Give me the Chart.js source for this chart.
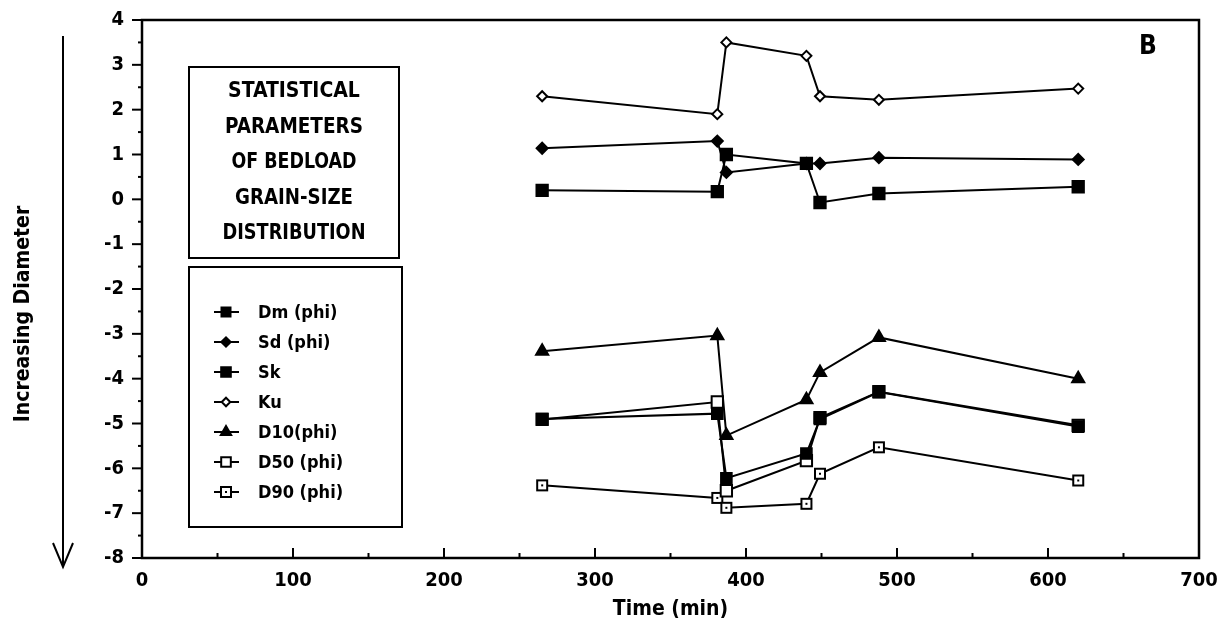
<!DOCTYPE html>
<html>
<head>
<meta charset="utf-8">
<script src="https://cdn.jsdelivr.net/npm/chart.js@4.4.0/dist/chart.umd.min.js"></script>
<style>
  body { margin: 0; background: #fff; }
  canvas { display: block; }
</style>
</head>
<body>
<canvas id="grafico" width="1225" height="632"></canvas>
<script>
// tiempos de muestreo (min)
const tiempos = [265, 381, 387, 440, 449, 488, 620];

// valores
const dm  = [-4.9, -4.78, -6.22, -5.67, -4.9, -4.3, -5.07];
const sd  = [1.14, 1.3, 0.6, 0.8, 0.8, 0.93, 0.89];
const sk  = [0.2, 0.17, 1.0, 0.8, -0.07, 0.13, 0.28];
const ku  = [2.3, 1.9, 3.5, 3.2, 2.3, 2.22, 2.47];
const d10 = [-3.39, -3.04, -5.27, -4.47, -3.86, -3.08, -4.0];
const d50 = [-4.91, -4.52, -6.5, -5.83, -4.87, -4.29, -5.04];
const d90 = [-6.38, -6.66, -6.88, -6.79, -6.12, -5.53, -6.27];

const nombres = ['Dm (phi)', 'Sd (phi)', 'Sk', 'Ku', 'D10(phi)', 'D50 (phi)', 'D90 (phi)'];
const lineasTitulo = ['STATISTICAL', 'PARAMETERS', 'OF BEDLOAD', 'GRAIN-SIZE', 'DISTRIBUTION'];
const anchosTitulo = [137, 138, 125, 118, 143];

const fuente = '"DejaVu Sans Condensed", "DejaVu Sans", sans-serif';

// cuadro abierto con punto central (D90)
function cuadroConPunto() {
  const c = document.createElement('canvas');
  c.width = 14; c.height = 14;
  const g = c.getContext('2d');
  g.fillStyle = '#fff';
  g.fillRect(2, 2, 10, 10);
  g.strokeStyle = '#000';
  g.lineWidth = 2;
  g.strokeRect(2, 2, 10, 10);
  g.fillStyle = '#000';
  g.fillRect(6, 6, 2, 2);
  return c;
}

function serie(label, data, estilo, radio, relleno) {
  return {
    label: label,
    data: data.map((v, i) => ({ x: tiempos[i], y: v })),
    borderColor: '#000',
    borderWidth: 2,
    pointStyle: estilo,
    pointRadius: radio,
    pointBorderWidth: 2,
    pointBorderColor: '#000',
    pointBackgroundColor: relleno,
    tension: 0,
    fill: false
  };
}

const datasets = [
  serie(nombres[0], dm, 'rect', 7.5, '#000'),
  serie(nombres[1], sd, 'rectRot', 5.5, '#000'),
  serie(nombres[2], sk, 'rect', 8, '#000'),
  serie(nombres[3], ku, 'rectRot', 5, '#fff'),
  serie(nombres[4], d10, 'triangle', 7, '#000'),
  serie(nombres[5], d50, 'rect', 8, '#fff'),
  serie(nombres[6], d90, cuadroConPunto(), 6, '#fff')
];

const decoracion = {
  id: 'decoracion',
  afterDraw(chart) {
    const ctx = chart.ctx;
    const a = chart.chartArea;
    const x = chart.scales.x;
    const y = chart.scales.y;
    ctx.save();
    ctx.strokeStyle = '#000';
    ctx.fillStyle = '#000';

    // marco
    ctx.lineWidth = 2.5;
    ctx.strokeRect(a.left, a.top, a.right - a.left, a.bottom - a.top);

    // marcas eje x (hacia dentro)
    ctx.lineWidth = 2;
    for (let t = 0; t <= 700; t += 50) {
      const px = x.getPixelForValue(t);
      const largo = t % 100 === 0 ? 10 : 5;
      ctx.beginPath();
      ctx.moveTo(px, a.bottom);
      ctx.lineTo(px, a.bottom - largo);
      ctx.stroke();
    }
    // marcas eje y (hacia fuera)
    for (let v = -8; v <= 4; v += 0.5) {
      const py = y.getPixelForValue(v);
      const largo = Number.isInteger(v) ? 10 : 4;
      ctx.beginPath();
      ctx.moveTo(a.left, py);
      ctx.lineTo(a.left - largo, py);
      ctx.stroke();
    }

    // titulo eje y y flecha
    ctx.save();
    ctx.translate(24, 314);
    ctx.rotate(-Math.PI / 2);
    ctx.font = 'bold 21px ' + fuente;
    ctx.textAlign = 'center';
    ctx.textBaseline = 'middle';
    ctx.fillText('Increasing Diameter', 0, 0, 250);
    ctx.restore();

    ctx.lineWidth = 2;
    ctx.beginPath();
    ctx.moveTo(63, 36);
    ctx.lineTo(63, 566);
    ctx.moveTo(53, 543);
    ctx.lineTo(63, 567);
    ctx.lineTo(73, 543);
    ctx.stroke();

    // letra del panel
    ctx.font = 'bold 26px ' + fuente;
    ctx.textAlign = 'center';
    ctx.textBaseline = 'middle';
    ctx.fillText('B', 1148, 47);

    // recuadro del titulo
    ctx.lineWidth = 2;
    ctx.strokeRect(189, 67, 210, 191);
    ctx.font = 'bold 21px ' + fuente;
    lineasTitulo.forEach((txt, i) => {
      ctx.fillText(txt, 294, 92 + i * 35.5, anchosTitulo[i]);
    });

    // leyenda
    ctx.strokeRect(189, 267, 213, 260);
    ctx.font = 'bold 18px ' + fuente;
    ctx.textAlign = 'left';
    chart.data.datasets.forEach((ds, i) => {
      const yy = 312 + i * 30;
      ctx.lineWidth = 2;
      ctx.beginPath();
      ctx.moveTo(214, yy);
      ctx.lineTo(239, yy);
      ctx.stroke();
      ctx.fillStyle = ds.pointBackgroundColor;
      ctx.strokeStyle = '#000';
      Chart.helpers.drawPoint(ctx, {
        pointStyle: ds.pointStyle,
        radius: ds.pointRadius * 0.85,
        rotation: 0,
        borderWidth: 2
      }, 226, yy);
      ctx.fillStyle = '#000';
      ctx.fillText(ds.label, 258, yy + 1);
    });

    ctx.restore();
  }
};

const ctx = document.getElementById('grafico').getContext('2d');
new Chart(ctx, {
  type: 'line',
  data: { datasets: datasets },
  options: {
    responsive: false,
    animation: false,
    layout: { padding: { top: 20, right: 26, left: 0, bottom: 0 } },
    plugins: {
      legend: { display: false },
      tooltip: { enabled: false }
    },
    scales: {
      x: {
        type: 'linear',
        min: 0,
        max: 700,
        grid: { display: false, drawTicks: false },
        border: { display: false },
        ticks: {
          stepSize: 100,
          color: '#000',
          padding: 11,
          font: { family: fuente, size: 20, weight: 'bold' }
        },
        title: {
          display: true,
          text: 'Time (min)',
          color: '#000',
          padding: { top: 0, bottom: 10 },
          font: { family: fuente, size: 21, weight: 'bold' }
        },
        afterFit: function(scale) {
          scale.height = 74;
          scale.paddingLeft = 0;
          scale.paddingRight = 0;
        }
      },
      y: {
        min: -8,
        max: 4,
        grid: { display: false, drawTicks: false },
        border: { display: false },
        ticks: {
          stepSize: 1,
          color: '#000',
          padding: 18,
          font: { family: fuente, size: 20, weight: 'bold' }
        },
        afterFit: function(scale) {
          scale.width = 142;
          scale.paddingTop = 0;
          scale.paddingBottom = 0;
        }
      }
    }
  },
  plugins: [decoracion]
});
</script>
</body>
</html>
